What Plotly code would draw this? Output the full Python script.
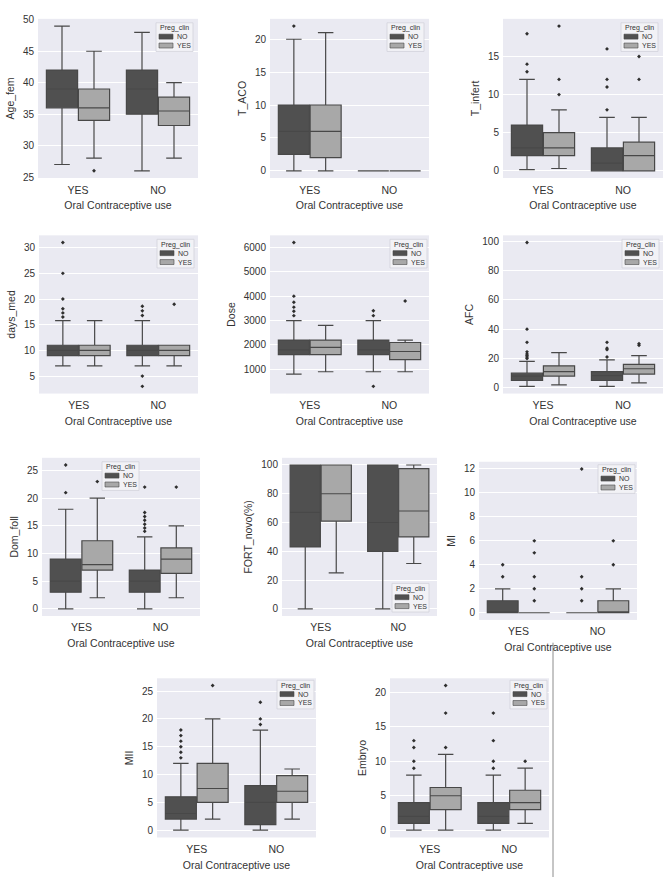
import plotly.graph_objects as go

# Oral Contraceptive use groups on the x axis, Preg_clin as hue
categories = ["YES", "NO"]
hues = ["NO", "YES"]

# box summaries per x group: [low whisker, q1, median, q3, high whisker]
age_no = [[27, 36, 39, 42, 49], [26, 35, 39, 42, 48]]
age_yes = [[28, 34, 36, 39, 45], [28, 33.2, 35.5, 37.7, 40]]
age_no_out = [[], []]
age_yes_out = [[26], []]

taco_no = [[0, 2.5, 6, 10, 20], [0, 0, 0, 0, 0]]
taco_yes = [[0, 2, 6, 10, 21], [0, 0, 0, 0, 0]]
taco_no_out = [[22], []]
taco_yes_out = [[], []]

tinf_no = [[0.15, 2, 3, 6, 12], [0, 0, 1, 3, 7]]
tinf_yes = [[0.3, 2, 3, 5, 8], [0, 0, 2, 3.75, 7]]
tinf_no_out = [[13, 14, 18], [8, 11, 12, 16]]
tinf_yes_out = [[10, 12, 19], [12, 15]]

days_no = [[7, 9, 10, 11, 15.8], [7, 9, 10, 11, 15.8]]
days_yes = [[7, 9, 10, 11, 15.8], [7, 9, 10, 11, 11]]
days_no_out = [[16.5, 17.3, 18.1, 20, 25, 31], [3, 5, 16.8, 17.7, 18.6]]
days_yes_out = [[], [19]]

dose_no = [[800, 1600, 1800, 2200, 3000], [900, 1600, 1800, 2200, 3000]]
dose_yes = [[900, 1600, 1900, 2200, 2800], [900, 1400, 1730, 2100, 2200]]
dose_no_out = [[3200, 3380, 3550, 3750, 4000, 6200], [300, 3200, 3400]]
dose_yes_out = [[], [3800]]

afc_no = [[1, 5, 8, 10, 18], [1, 5, 8.3, 11, 19]]
afc_yes = [[2, 8, 11, 15, 24], [3.4, 9.4, 13, 16, 22]]
afc_no_out = [[20, 21, 22, 23, 24.5, 31, 40, 99], [21, 26, 27, 31]]
afc_yes_out = [[], [29, 30]]

dom_no = [[0, 3, 5, 9, 18], [0, 3, 5, 7, 13]]
dom_yes = [[2, 7, 8, 12.3, 20], [2, 6.4, 9, 11, 15]]
dom_no_out = [[21, 26], [14, 14.6, 15.3, 16, 16.7, 17.4, 22]]
dom_yes_out = [[23], [22]]

fort_no = [[0, 43, 67, 100, 100], [0, 40, 60, 100, 100]]
fort_yes = [[25, 61, 80, 100, 100], [31.5, 50, 68, 97.5, 100]]
fort_no_out = [[], []]
fort_yes_out = [[], []]

mi_no = [[0, 0, 0, 1, 2], [0, 0, 0, 0, 0]]
mi_yes = [[0, 0, 0, 0, 0], [0, 0, 0, 1, 2]]
mi_no_out = [[3, 4], [1, 2, 3, 12]]
mi_yes_out = [[1, 2, 3, 5, 6], [4, 6]]

mii_no = [[0, 2, 3, 6, 12], [0, 1, 5, 8, 18]]
mii_yes = [[2, 5, 7.5, 12, 20], [2, 5, 7, 9.8, 11]]
mii_no_out = [[13, 14, 15, 16, 17, 18], [19, 20, 23]]
mii_yes_out = [[26], []]

emb_no = [[0, 1, 2, 4, 8], [0, 1, 2, 4, 8]]
emb_yes = [[0, 3, 5, 6.2, 11], [1, 3, 4, 5.8, 9]]
emb_no_out = [[9, 10, 12, 13], [9, 10, 13, 17]]
emb_yes_out = [[12, 17, 21], [10]]

W, H = 669, 882
FONT = "Liberation Sans, Arial, sans-serif"
FILL = {"NO": "#505050", "YES": "#a8a8a8"}
EDGE = "#484848"
LEG_W, LEG_H = 37, 29

# label, stats, outliers, dtick, pixel box (x0, x1, y0, y1), legend top-left corner
panels = [
    ("Age_fem", (age_no, age_yes), (age_no_out, age_yes_out), 5, (38, 198, 14, 175), (156, 18)),
    ("T_ACO", (taco_no, taco_yes), (taco_no_out, taco_yes_out), 5, (270, 429, 14, 175), (387, 18)),
    ("T_infert", (tinf_no, tinf_yes), (tinf_no_out, tinf_yes_out), 5, (503, 663, 14, 175), (621, 18)),
    ("days_med", (days_no, days_yes), (days_no_out, days_yes_out), 5, (39, 198, 233, 393), (157, 237)),
    ("Dose", (dose_no, dose_yes), (dose_no_out, dose_yes_out), 1000, (270, 429, 233, 393), (390, 237)),
    ("AFC", (afc_no, afc_yes), (afc_no_out, afc_yes_out), 20, (503, 663, 233, 393), (622, 237)),
    ("Dom_foll", (dom_no, dom_yes), (dom_no_out, dom_yes_out), 5, (42, 200, 458, 618), (102, 462)),
    ("FORT_novo(%)", (fort_no, fort_yes), (fort_no_out, fort_yes_out), 20, (282, 437, 458, 618), (392, 585)),
    ("MI", (mi_no, mi_yes), (mi_no_out, mi_yes_out), 2, (479, 637, 462, 622), (598, 465)),
    ("MII", (mii_no, mii_yes), (mii_no_out, mii_yes_out), 5, (157, 316, 681, 842), (277, 683)),
    ("Embryo", (emb_no, emb_yes), (emb_no_out, emb_yes_out), 5, (390, 549, 681, 842), (510, 683)),
]


def px(x):
    return x / W


def py(y):
    return 1 - y / H


fig = go.Figure()
layout = {}
shapes = []
annotations = []

for i, (label, stats, outs, dtick, box, leg) in enumerate(panels, start=1):
    sfx = "" if i == 1 else str(i)
    xa, ya = "x" + sfx, "y" + sfx
    values = []
    for h, hue in enumerate(hues):
        offset = -0.2 if h == 0 else 0.2
        xs = [c + offset for c in range(len(categories))]
        s = stats[h]
        values += [v for row in s for v in row]
        fig.add_trace(go.Box(
            x=xs,
            lowerfence=[r[0] for r in s], q1=[r[1] for r in s], median=[r[2] for r in s],
            q3=[r[3] for r in s], upperfence=[r[4] for r in s],
            width=0.39, whiskerwidth=0.5, boxpoints=False,
            fillcolor=FILL[hue], line=dict(color=EDGE, width=1.2),
            name=hue, showlegend=False,
            xaxis=xa, yaxis=ya, hoverinfo="skip",
        ))
        ox, oy = [], []
        for c, pts in enumerate(outs[h]):
            ox += [c + offset] * len(pts)
            oy += pts
            values += pts
        if oy:
            fig.add_trace(go.Scatter(
                x=ox, y=oy, mode="markers", showlegend=False,
                marker=dict(color="#2e2e2e", size=3, symbol="diamond"),
                xaxis=xa, yaxis=ya, hoverinfo="skip",
            ))
    lo, hi = min(values), max(values)
    pad = (hi - lo) * 0.05
    x0, x1, y0, y1 = box
    layout["xaxis" + sfx] = dict(
        domain=[px(x0), px(x1)], anchor=ya, range=[-0.5, 1.5],
        tickvals=list(range(len(categories))), ticktext=categories,
        showgrid=False, zeroline=False, ticks="", ticklabelstandoff=4,
        tickfont=dict(size=10.5, color="#333"),
        title=dict(text="Oral Contraceptive use", font=dict(size=10.5, color="#333"), standoff=7),
    )
    layout["yaxis" + sfx] = dict(
        domain=[py(y1), py(y0)], anchor=xa, range=[lo - pad, hi + pad],
        dtick=dtick, gridcolor="white", gridwidth=1, zeroline=False, ticks="",
        ticklabelstandoff=3,
        tickfont=dict(size=10, color="#333"),
        title=dict(text=label, font=dict(size=10.5, color="#333"), standoff=6),
    )

    # hand-drawn seaborn-style legend
    lx, ly = leg
    shapes.append(dict(type="rect", xref="paper", yref="paper",
                       x0=px(lx), x1=px(lx + LEG_W), y0=py(ly + LEG_H), y1=py(ly),
                       fillcolor="rgba(242,242,246,0.92)", line=dict(color="#d2d2da", width=0.8)))
    annotations.append(dict(xref="paper", yref="paper", x=px(lx + LEG_W / 2), y=py(ly + 5.5),
                            text="Preg_clin", showarrow=False, font=dict(size=7, color="#333"),
                            xanchor="center", yanchor="middle"))
    for h, hue in enumerate(hues):
        ry = ly + 14 + h * 9
        shapes.append(dict(type="rect", xref="paper", yref="paper",
                           x0=px(lx + 3), x1=px(lx + 17), y0=py(ry + 2.5), y1=py(ry - 2.5),
                           fillcolor=FILL[hue], line=dict(color=EDGE, width=0.6)))
        annotations.append(dict(xref="paper", yref="paper", x=px(lx + 19), y=py(ry),
                                text=hue, showarrow=False, font=dict(size=7, color="#333"),
                                xanchor="left", yanchor="middle"))

shapes.append(dict(type="line", xref="paper", yref="paper",
                   x0=px(553), x1=px(553), y0=0, y1=py(645),
                   line=dict(color="#8c8c8c", width=1)))

fig.update_layout(
    width=W, height=H, margin=dict(l=0, r=0, t=0, b=0),
    paper_bgcolor="white", plot_bgcolor="#eaeaf2",
    font=dict(family=FONT, color="#333"),
    boxmode="overlay", showlegend=False,
    shapes=shapes, annotations=annotations,
    **layout,
)

fig.write_html("out.html", config={"displayModeBar": False},
               post_script="document.body.style.margin = '0';")
